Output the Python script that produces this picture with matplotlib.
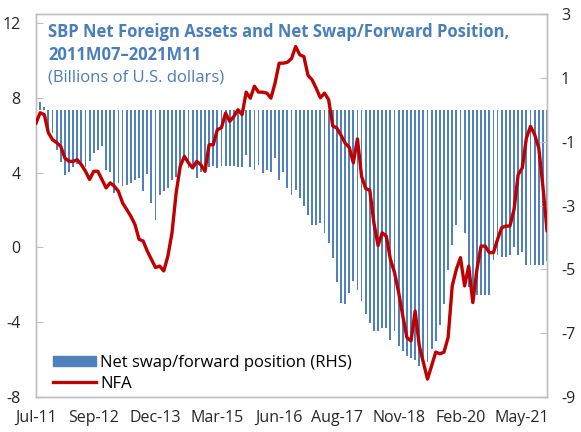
import numpy as np
import matplotlib.pyplot as plt
from matplotlib.patches import Patch
from matplotlib.lines import Line2D

plt.rcParams['font.family'] = ['Open Sans', 'DejaVu Sans']
plt.rcParams['axes.unicode_minus'] = False

# monthly data 2011M07 - 2021M11 (125 months)
swap_rhs = [0.3, 0.25, 0.08, -0.69, -0.74, -1.25, -1.63, -2.05, -1.94, -1.79,
            -1.69, -1.75, -1.8, -1.6, -1.35, -1.25, -1.15, -1.9, -1.95, -2.6,
            -2.3, -2.4, -2.36, -2.3, -2.2, -2.15, -2.56, -2.0, -2.93, -3.45,
            -2.67, -2.56, -2.46, -2.2, -2.1, -1.84, -1.55, -1.84, -1.84, -2.15,
            -1.94, -1.73, -1.79, -1.75, -1.82, -1.76, -1.76, -1.76, -1.76, -1.79,
            -1.78, -1.42, -1.79, -1.89, -1.73, -1.98, -1.89, -1.94, -1.52, -2.2,
            -1.95, -2.46, -2.67, -2.5, -2.77, -3.0, -3.3, -3.61, -3.61, -3.55,
            -3.86, -4.17, -4.64, -5.4, -6.05, -6.1, -5.75, -5.38, -5.64, -6.0,
            -6.4, -6.68, -6.94, -6.94, -6.83, -6.83, -7.2, -6.94, -7.41, -7.57,
            -7.72, -7.78, -7.83, -8.04, -7.8, -7.9, -7.5, -7.26, -6.73, -6.1,
            -5.02, -4.23, -3.6, -2.83, -3.87, -5.54, -5.74, -5.79, -5.79, -5.79,
            -5.79, -4.7, -4.55, -4.6, -4.62, -4.55, -4.3, -4.55, -4.45, -4.86,
            -4.86, -4.86, -4.86, -4.86, -4.75]

nfa = [6.65, 7.2, 7.1, 6.13, 5.76, 5.6, 5.4, 4.78, 4.6, 4.6,
       4.69, 4.42, 4.07, 3.63, 4.07, 4.07, 3.63, 3.18, 3.45, 3.27,
       3.0, 2.38, 2.03, 1.67, 1.23, 0.43, 0.34, -0.2, -0.64, -1.08,
       -1.0, -1.26, -0.46, 0.78, 2.91, 4.34, 4.87, 4.52, 4.25, 4.6,
       4.42, 4.07, 5.49, 5.49, 6.29, 6.4, 7.18, 6.74, 7.0, 7.36,
       7.1, 8.3, 7.98, 8.62, 8.3, 8.3, 8.25, 7.98, 8.78, 9.85,
       9.85, 9.9, 10.1, 10.74, 10.3, 10.2, 9.2, 8.96, 8.5, 8.0,
       8.25, 7.9, 6.5, 6.38, 6.0, 5.58, 5.35, 4.52, 5.8, 3.8,
       3.15, 3.05, 1.3, 0.1, 0.78, 0.6, -0.64, -1.35, -2.42, -3.66,
       -4.82, -5.0, -3.4, -5.26, -6.15, -7.04, -6.33, -5.6, -5.69, -5.6,
       -4.82, -2.06, -1.17, -0.55, -2.06, -1.0, -2.95, -1.17, 0.07, 0.07,
       -0.28, -0.28, 0.43, 1.05, 1.14, 1.14, 2.03, 3.89, 4.25, 5.85,
       6.47, 6.03, 5.32, 3.27, 0.9]

tick_pos = [0, 14, 29, 44, 59, 73, 88, 103, 118]
tick_labels = ['Jul-11', 'Sep-12', 'Dec-13', 'Mar-15', 'Jun-16',
               'Aug-17', 'Nov-18', 'Feb-20', 'May-21']

blue = '#4F81BD'
red = '#C00000'
title_col = '#4A7EBB'
grey = '#BFBFBF'
txt = '#262626'

x = np.arange(len(nfa))

fig = plt.figure(figsize=(5.81, 4.32), dpi=100)
ax = fig.add_axes([0.062, 0.081, 0.8795, 0.8866])
ax2 = ax.twinx()

ax2.bar(x, swap_rhs, width=0.45, color=blue, zorder=1)
ax.plot(x, nfa, color=red, lw=2.4, zorder=3)

ax.set_zorder(ax2.get_zorder() + 1)
ax.patch.set_visible(False)

ax.set_xlim(0, 124)
ax.set_ylim(-8, 12.48)
ax.set_yticks([-8, -4, 0, 4, 8, 12])
ax2.set_ylim(-9, 3)
ax2.set_yticks([3, 1, -1, -3, -5, -7, -9])

ax.set_xticks(tick_pos)
ax.set_xticklabels(tick_labels)

for a in (ax, ax2):
    for s in a.spines.values():
        s.set_color(grey)
        s.set_linewidth(1.0)
ax.tick_params(axis='x', length=0, pad=9, labelsize=11.5, colors=txt)
ax.tick_params(axis='y', direction='in', length=5, color=grey, pad=11,
               labelsize=11.5, labelcolor=txt)
ax2.tick_params(axis='y', direction='in', length=5, color=grey, pad=10,
                labelsize=11.5, labelcolor=txt)

ax.text(0.0235, 0.953, 'SBP Net Foreign Assets and Net Swap/Forward Position,',
        transform=ax.transAxes, fontsize=12, fontweight='bold', color=title_col,
        va='center', ha='left')
ax.text(0.0235, 0.893, '2011M07\u20132021M11',
        transform=ax.transAxes, fontsize=12, fontweight='bold', color=title_col,
        va='center', ha='left')
ax.text(0.0235, 0.833, '(Billions of U.S. dollars)', transform=ax.transAxes,
        fontsize=12, color=title_col, va='center', ha='left')

handles = [Patch(facecolor=blue, edgecolor=blue),
           Line2D([], [], color=red, lw=2.4)]
ax.legend(handles, ['Net swap/forward position (RHS)', 'NFA'],
          loc='lower left', bbox_to_anchor=(0.0, -0.03), frameon=False,
          fontsize=12, handlelength=2.6, handleheight=0.6, handletextpad=0.25,
          labelspacing=0.3, borderaxespad=0.6)

fig.savefig('out.png', dpi=100)
